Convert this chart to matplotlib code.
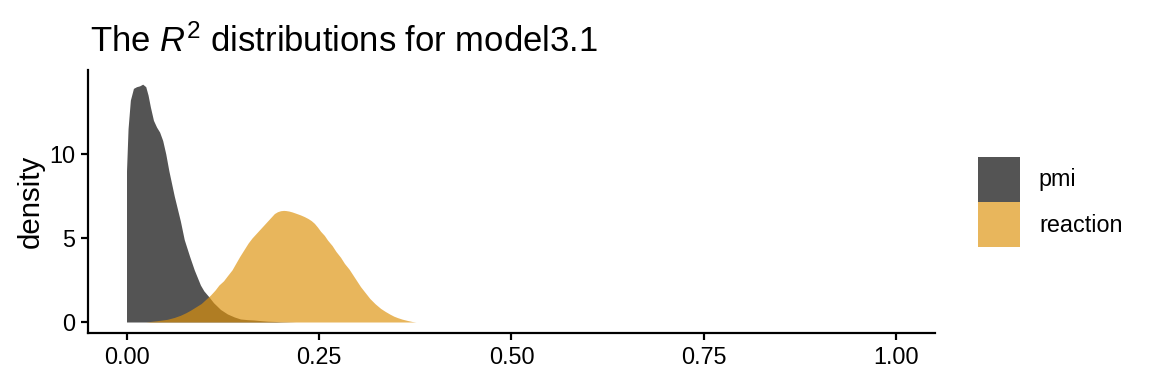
import matplotlib
matplotlib.use("Agg")
import matplotlib.pyplot as plt
from matplotlib.patches import Patch

plt.rcParams['font.family'] = ['Liberation Sans', 'DejaVu Sans']
plt.rcParams['mathtext.fontset'] = 'custom'
plt.rcParams['mathtext.it'] = 'Liberation Sans:italic'
plt.rcParams['mathtext.rm'] = 'Liberation Sans'

# Data
pmi_x = [0.000, 0.002, 0.005, 0.009, 0.013, 0.017, 0.021, 0.025, 0.028, 0.031,
         0.035, 0.039, 0.043, 0.047, 0.051, 0.055, 0.062, 0.070, 0.075, 0.082,
         0.088, 0.096, 0.1005, 0.107, 0.113, 0.122, 0.131, 0.140, 0.148, 0.157,
         0.165, 0.175, 0.183, 0.200, 0.220]
pmi_y = [9.0, 11.5, 13.2, 13.9, 14.0, 14.05, 14.15, 14.0, 13.5, 12.8,
         12.0, 11.6, 11.3, 10.8, 10.0, 9.0, 7.5, 6.0, 4.9, 3.9,
         3.1, 2.2, 1.85, 1.5, 1.15, 0.75, 0.48, 0.3, 0.18, 0.14,
         0.12, 0.08, 0.05, 0.02, 0.0]

reaction_x = [0.025, 0.040, 0.053, 0.062, 0.070, 0.077, 0.083, 0.090, 0.097, 0.103,
              0.109, 0.115, 0.120, 0.126, 0.131, 0.137, 0.142, 0.147, 0.1525, 0.158,
              0.163, 0.169, 0.174, 0.179, 0.183, 0.188, 0.192, 0.196, 0.200, 0.204,
              0.207, 0.211, 0.215, 0.220, 0.226, 0.231, 0.236, 0.240, 0.244, 0.248,
              0.252, 0.257, 0.261, 0.267, 0.272, 0.278, 0.283, 0.289, 0.294, 0.299,
              0.304, 0.310, 0.316, 0.323, 0.330, 0.336, 0.342, 0.347, 0.352, 0.358,
              0.365, 0.371, 0.376]
reaction_y = [0.0, 0.08, 0.16, 0.27, 0.4, 0.55, 0.7, 0.9, 1.1, 1.35,
              1.6, 1.9, 2.2, 2.45, 2.75, 3.1, 3.5, 3.9, 4.3, 4.7,
              5.0, 5.3, 5.55, 5.8, 6.0, 6.25, 6.45, 6.56, 6.62, 6.64,
              6.63, 6.6, 6.55, 6.47, 6.37, 6.27, 6.15, 6.03, 5.87, 5.65,
              5.4, 5.15, 4.88, 4.55, 4.2, 3.85, 3.49, 3.15, 2.8, 2.45,
              2.1, 1.75, 1.4, 1.08, 0.81, 0.63, 0.47, 0.35, 0.26, 0.17,
              0.09, 0.03, 0.0]

series_names = ["pmi", "reaction"]
series_colors = ["#000000", "#DE920C"]
alpha = 0.67

x_ticks = [0.00, 0.25, 0.50, 0.75, 1.00]
x_tick_labels = ["0.00", "0.25", "0.50", "0.75", "1.00"]
y_ticks = [0, 5, 10]

fig = plt.figure(figsize=(8, 8/3), dpi=144)
ax = fig.add_axes([0.0764, 0.133, 0.7352, 0.685])

ax.fill_between(pmi_x, 0, pmi_y, color=series_colors[0], alpha=alpha, linewidth=0)
ax.fill_between(reaction_x, 0, reaction_y, color=series_colors[1], alpha=alpha, linewidth=0)

ax.set_xlim(-0.05, 1.05)
ax.set_ylim(-0.65, 15.0)
ax.set_xticks(x_ticks)
ax.set_xticklabels(x_tick_labels)
ax.set_yticks(y_ticks)
for s in ["top", "right"]:
    ax.spines[s].set_visible(False)
for s in ["left", "bottom"]:
    ax.spines[s].set_linewidth(1.1)
    ax.spines[s].set_color("black")
ax.tick_params(axis="both", length=3.5, width=1.1, colors="black", labelsize=11.7, pad=3)
ax.set_ylabel("density", fontsize=14.7, labelpad=2)

fig.text(0.078, 0.893, "The $R^2$ distributions for model3.1", fontsize=17.3,
         ha="left", va="center")

handles = [Patch(facecolor=c, alpha=alpha, edgecolor="none") for c in series_colors]
fig.legend(handles, series_names, loc="center left", bbox_to_anchor=(0.849, 0.474),
           frameon=False, fontsize=11.7, handlelength=1.8, handleheight=2.55,
           labelspacing=0.03, handletextpad=0.8, borderaxespad=0, borderpad=0)

fig.savefig("out.png", dpi=144)
